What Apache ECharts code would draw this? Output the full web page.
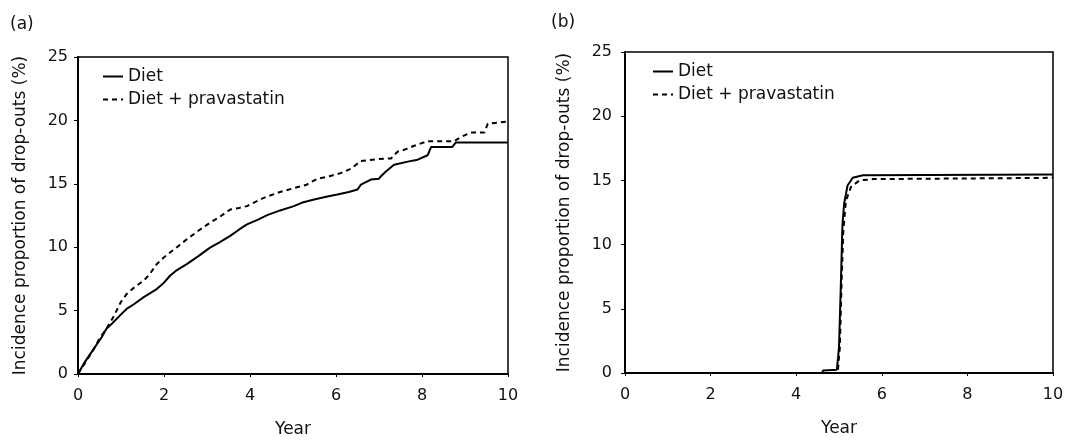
<!DOCTYPE html>
<html>
<head>
<meta charset="utf-8">
<script src="https://cdn.jsdelivr.net/npm/echarts@6/dist/echarts.min.js"></script>
<style>
html,body{margin:0;padding:0;background:#fff;}
#chart{width:1069px;height:443px;}
</style>
</head>
<body>
<div id="chart"></div>
<script>
// ---- Data ----
const seriesNames = ['Diet', 'Diet + pravastatin'];
const xTicks = [0, 2, 4, 6, 8, 10];
const yTicks = [0, 5, 10, 15, 20, 25];

// Panel (a)
const aDietYears = [0,0.15,0.35,0.55,0.66,0.8,1.0,1.13,1.3,1.52,1.83,2.0,2.14,2.3,2.53,2.8,3.07,3.3,3.54,3.75,3.93,4.2,4.4,4.7,5.02,5.2,5.49,5.8,6.03,6.3,6.5,6.58,6.81,7.0,7.04,7.16,7.35,7.67,7.9,8.13,8.21,8.7,8.79,10];
const aDietValues = [0,0.9,1.9,2.9,3.56,4.0,4.7,5.13,5.5,6.04,6.7,7.2,7.75,8.2,8.66,9.3,9.97,10.4,10.89,11.4,11.8,12.2,12.53,12.9,13.24,13.5,13.76,14.0,14.15,14.35,14.55,14.94,15.33,15.4,15.58,15.97,16.5,16.75,16.9,17.25,17.9,17.9,18.26,18.26];
const aPravYears = [0,0.15,0.35,0.5,0.66,0.82,1.0,1.13,1.3,1.52,1.65,1.83,2.0,2.14,2.3,2.53,2.8,3.07,3.3,3.54,3.75,3.93,4.2,4.4,4.7,5.02,5.3,5.56,5.85,6.11,6.35,6.58,7.0,7.28,7.43,7.6,7.82,8.13,8.75,8.91,9.14,9.45,9.53,10];
const aPravValues = [0,0.8,1.86,2.8,3.56,4.47,5.7,6.3,6.8,7.35,7.8,8.66,9.2,9.58,10.0,10.62,11.3,11.93,12.4,12.97,13.1,13.24,13.7,14.0,14.35,14.66,14.9,15.39,15.6,15.84,16.2,16.8,16.95,17.0,17.53,17.7,18.0,18.36,18.36,18.7,19.04,19.04,19.74,19.92];

// Panel (b)
const bDietYears = [0,4.6,4.63,4.95,4.98,5.0,5.04,5.08,5.12,5.2,5.32,5.56,10];
const bDietValues = [0,0,0.2,0.25,0.3,2.0,6.5,11.5,13.2,14.6,15.2,15.4,15.45];
const bPravYears = [0,4.97,5.02,5.06,5.1,5.16,5.28,5.48,5.8,10];
const bPravValues = [0,0,2.0,7.0,11.0,13.4,14.5,15.0,15.1,15.2];

const panelLabels = ['(a)', '(b)'];
const xTitle = 'Year';
const yTitle = 'Incidence proportion of drop-outs (%)';

// ---- Chart ----
const FONT = 'DejaVu Sans';
function pairs(xs, ys){ return xs.map((x,i)=>[x, ys[i]]); }

const grids = [
  {left: 78, right: 561, top: 57, height: 321},
  {left: 625, right: 16, top: 52, height: 321}
];
const nameGaps = [[47, 49], [47, 52]];
const labelMargins = [10, 13];

function xAxis(i){
  return {
    type: 'value', gridIndex: i, min: xTicks[0], max: xTicks[xTicks.length-1], interval: 2,
    name: xTitle, nameLocation: 'middle', nameGap: nameGaps[i][0],
    nameTextStyle: {fontFamily: FONT, fontSize: 17, color: '#111'},
    axisLine: {show: true, lineStyle: {color: '#000', width: 2}},
    axisTick: {show: true, inside: false, length: 3, lineStyle: {color: '#000', width: 1}},
    axisLabel: {fontFamily: FONT, fontSize: 16, color: '#111', margin: 14},
    splitLine: {show: false}
  };
}
function yAxis(i){
  return {
    type: 'value', gridIndex: i, min: yTicks[0], max: yTicks[yTicks.length-1], interval: 5,
    name: yTitle, nameLocation: 'middle', nameGap: nameGaps[i][1], nameRotate: 90,
    nameTextStyle: {fontFamily: FONT, fontSize: 17, color: '#111'},
    axisLine: {show: true, lineStyle: {color: '#000', width: 2}},
    axisTick: {show: true, inside: false, length: 4, lineStyle: {color: '#000', width: 1}},
    axisLabel: {fontFamily: FONT, fontSize: 16, color: '#111', margin: labelMargins[i]},
    splitLine: {show: false}
  };
}
function line(name, i, data, dashed){
  return {
    name: name, type: 'line', xAxisIndex: i, yAxisIndex: i,
    data: data, symbol: 'none', smooth: false, animation: false,
    lineStyle: {color: '#000', width: 2, type: dashed ? [5, 4] : 'solid'},
    itemStyle: {color: '#000'}
  };
}
function legend(left, top){
  return {
    left: left, top: top, orient: 'vertical', itemWidth: 20, itemHeight: 14, itemGap: 6,
    data: seriesNames, selectedMode: false,
    itemStyle: {opacity: 0, borderWidth: 0},
    lineStyle: {width: 2},
    textStyle: {fontFamily: FONT, fontSize: 17, color: '#111'}
  };
}

const option = {
  backgroundColor: '#fff',
  animation: false,
  title: [
    {text: panelLabels[0], left: 5, top: 11, textStyle: {fontFamily: FONT, fontSize: 17, fontWeight: 'normal', color: '#111'}},
    {text: panelLabels[1], left: 546, top: 9, textStyle: {fontFamily: FONT, fontSize: 17, fontWeight: 'normal', color: '#111'}}
  ],
  grid: grids.map(g => Object.assign({show: true, borderColor: '#000', borderWidth: 1.5, backgroundColor: 'transparent'}, g)),
  xAxis: [xAxis(0), xAxis(1)],
  yAxis: [yAxis(0), yAxis(1)],
  legend: [legend(97, 63), legend(647, 58)],
  series: [
    line(seriesNames[0], 0, pairs(aDietYears, aDietValues), false),
    line(seriesNames[1], 0, pairs(aPravYears, aPravValues), true),
    line(seriesNames[0], 1, pairs(bDietYears, bDietValues), false),
    line(seriesNames[1], 1, pairs(bPravYears, bPravValues), true)
  ]
};

const chart = echarts.init(document.getElementById('chart'), null, {renderer: 'canvas'});
chart.setOption(option);
</script>
</body>
</html>
